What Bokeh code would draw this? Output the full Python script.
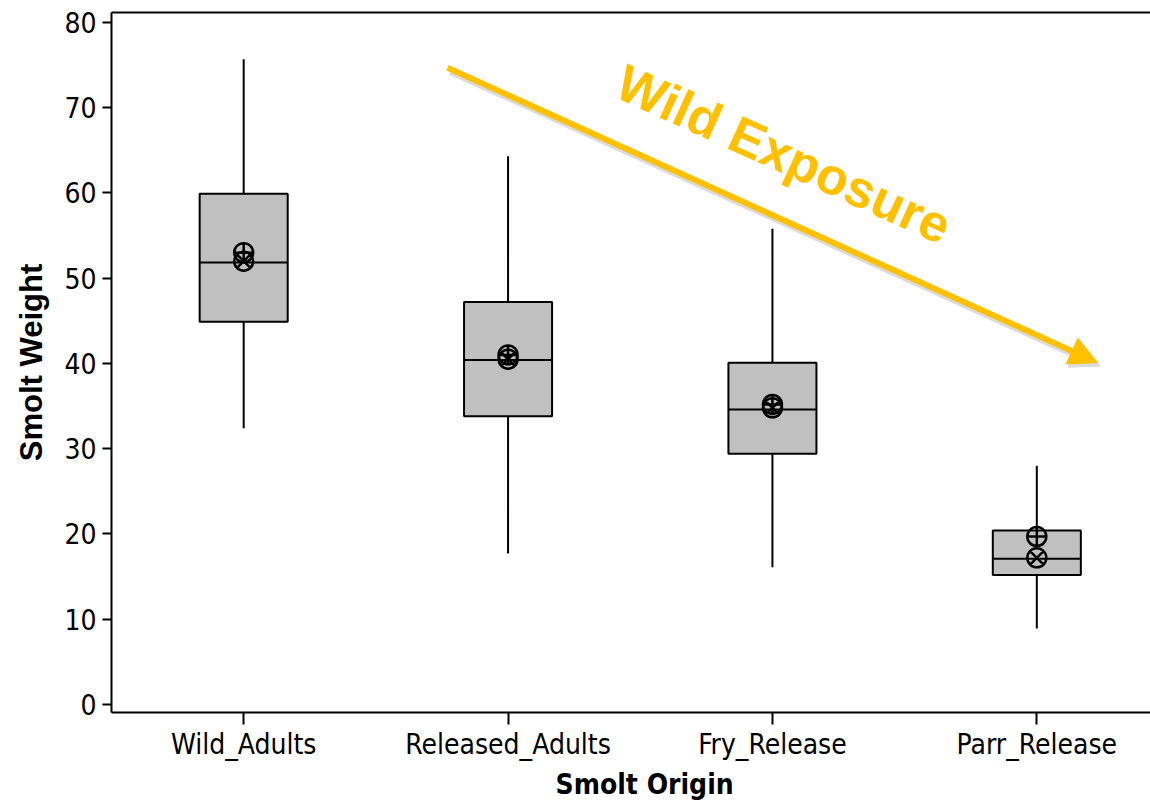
from bokeh.plotting import figure
from bokeh.models import Range1d, FixedTicker, Arrow, NormalHead, Label, Title, LinearAxis
from bokeh.embed import file_html
from bokeh.resources import INLINE

# ---- data ----
categories = ["Wild_Adults", "Released_Adults", "Fry_Release", "Parr_Release"]
whisker_low = [32.4, 17.7, 16.1, 8.9]
q1 = [44.9, 33.8, 29.4, 15.2]
median = [51.85, 40.4, 34.6, 17.1]
q3 = [59.9, 47.2, 40.1, 20.4]
whisker_high = [75.7, 64.3, 55.8, 28.0]
mean_a = [53.0, 41.0, 35.2, 19.7]   # circle-cross symbol
mean_b = [52.0, 40.5, 34.8, 17.2]   # circle-x symbol
y_ticks = [0, 10, 20, 30, 40, 50, 60, 70, 80]

# annotation (arrow + label) in data coordinates
arrow_start = (0.771, 74.7)
arrow_end = (3.23, 40.1)
label_pos = (2.043, 64.55)
label_text = "Wild Exposure"
xlabel_text = "Smolt Origin"

xs = list(range(len(categories)))
box_w = 0.333
FONT = "DejaVu Sans Condensed"
GOLD = "#FFC000"

p = figure(width=1150, height=803, output_backend="svg", toolbar_location=None,
           x_range=Range1d(-0.5, 3.43), y_range=Range1d(-0.94, 81.17),
           min_border_left=111, min_border_right=0, min_border_top=12, min_border_bottom=91)

p.xgrid.visible = False
p.ygrid.visible = False
p.outline_line_color = None
p.background_fill_color = "white"
p.border_fill_color = "white"

# whiskers
p.segment(x0=xs, y0=q3, x1=xs, y1=whisker_high, line_color="black", line_width=2)
p.segment(x0=xs, y0=q1, x1=xs, y1=whisker_low, line_color="black", line_width=2)
# boxes
p.vbar(x=xs, width=box_w, top=q3, bottom=q1, fill_color="#C0C0C0",
       line_color="black", line_width=2)
# medians
p.segment(x0=[x - box_w / 2 for x in xs], y0=median,
          x1=[x + box_w / 2 for x in xs], y1=median, line_color="black", line_width=2)
# mean symbols
p.scatter(x=xs, y=mean_a, marker="circle_cross", size=19, fill_color=None,
          line_color="black", line_width=2.5)
p.scatter(x=xs, y=mean_b, marker="circle_x", size=19, fill_color=None,
          line_color="black", line_width=2.5)

# arrow shadow + arrow
shadow = Arrow(end=NormalHead(size=30, fill_color="#888888", fill_alpha=0.3, line_alpha=0),
               x_start=arrow_start[0] + 0.012, y_start=arrow_start[1] - 0.45,
               x_end=arrow_end[0] + 0.012, y_end=arrow_end[1] - 0.45,
               line_color="#888888", line_alpha=0.3, line_width=7)
p.add_layout(shadow)
arrow = Arrow(end=NormalHead(size=28, fill_color=GOLD, line_color=GOLD, line_width=1),
              x_start=arrow_start[0], y_start=arrow_start[1],
              x_end=arrow_end[0], y_end=arrow_end[1],
              line_color=GOLD, line_width=6)
p.add_layout(arrow)

lab = Label(x=label_pos[0], y=label_pos[1], text=label_text, angle=-0.426,
            text_font="Liberation Sans", text_font_style="bold", text_font_size="52px",
            text_color=GOLD, text_align="center", text_baseline="middle")
p.add_layout(lab)

# axes
p.xaxis.ticker = FixedTicker(ticks=xs)
p.xaxis.major_label_overrides = {i: c for i, c in enumerate(categories)}
p.yaxis.ticker = FixedTicker(ticks=y_ticks)
for ax in (p.xaxis[0], p.yaxis[0]):
    ax.axis_line_color = "black"
    ax.axis_line_width = 2
    ax.major_tick_line_color = "black"
    ax.major_tick_line_width = 2
    ax.major_tick_in = 0
    ax.minor_tick_line_color = None
    ax.major_label_text_font = FONT
    ax.major_label_text_font_size = "28px"
    ax.major_label_text_color = "black"
    ax.axis_label_text_font_style = "bold"
    ax.axis_label_text_color = "black"

p.xaxis.major_tick_out = 12
p.xaxis.major_label_standoff = 3
p.yaxis.major_tick_out = 9
p.yaxis.major_label_standoff = 6
p.yaxis.axis_label = "Smolt Weight"
p.yaxis.axis_label_standoff = 12
p.yaxis.axis_label_text_font = "Liberation Sans"
p.yaxis.axis_label_text_font_size = "31px"

# top border line only (the reference frame runs past the right edge)
top_axis = LinearAxis(ticker=FixedTicker(ticks=[]), major_label_text_font_size="0px",
                      major_tick_out=0, major_tick_in=0, minor_tick_line_color=None,
                      axis_line_color="black", axis_line_width=2)
p.add_layout(top_axis, "above")

# x axis title as a below-title placed at the reference's position
xt = Title(text=xlabel_text, align="left", offset=444, standoff=4,
           text_font=FONT, text_font_style="bold", text_font_size="28px",
           text_color="black")
p.add_layout(xt, "below")

open("out.html", "w").write(file_html(p, INLINE))
